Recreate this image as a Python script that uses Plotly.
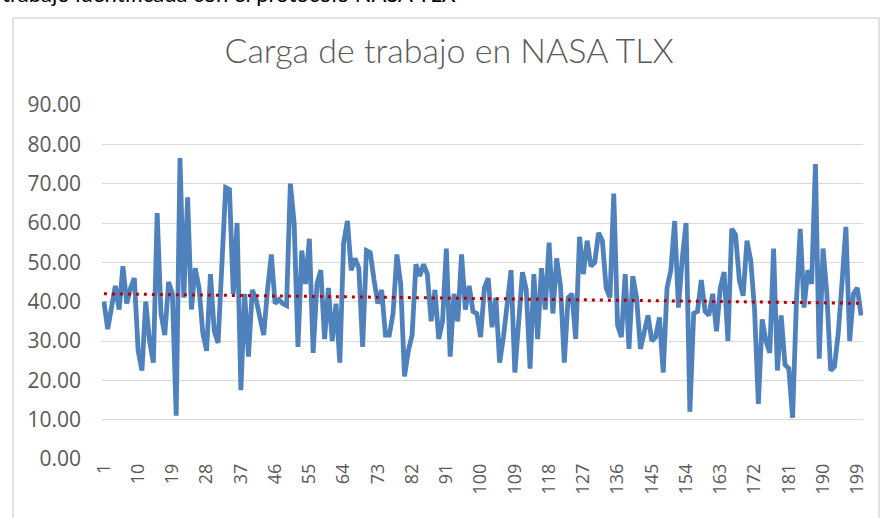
import numpy as np
import plotly.graph_objects as go

title_text = "Carga de trabajo en NASA TLX"
top_text = "trabajo identificada con el protocolo NASA TLX"

values = [
    40, 33, 38.5, 44, 38, 49, 39.5, 43.5, 46, 27.5,
    22.5, 40, 30, 24.5, 62.5, 37, 31.5, 45, 42, 11,
    76.5, 41, 66.5, 38, 48.5, 43.5, 32, 27.5, 47, 32.5,
    29.5, 50, 69, 68.5, 42, 60, 17.5, 42, 26, 43,
    40.5, 36, 31.5, 43, 52, 39.5, 40.5, 39.5, 39, 70,
    60, 28.5, 53, 44.5, 56, 27, 44.5, 48, 30.5, 43.5,
    30, 39.5, 24.5, 55, 60.5, 48, 51, 48.5, 28.5, 53,
    52.5, 45.5, 39.5, 43, 31.5, 31.5, 37, 52, 44.5, 21,
    27.5, 31.5, 49.5, 46.5, 49.5, 47, 35, 43, 30.5, 35,
    53.5, 26, 42, 35, 52, 38, 44, 37.5, 37, 31,
    43.5, 46, 33.5, 41, 24.5, 31, 39, 48, 22, 35,
    47.5, 43, 23, 47, 30.5, 48.5, 38, 55, 37, 51,
    44, 24.5, 41, 42, 30.5, 56.5, 47, 55.5, 49, 50,
    57.5, 55.5, 43.5, 41, 67.5, 34, 31, 47, 28, 46.5,
    41, 28, 32.5, 36.5, 30, 31, 36, 22, 43.5, 48,
    60.5, 38.5, 51, 60, 12, 37, 37.5, 45.5, 37.5, 36.5,
    42, 32.5, 43.5, 47.5, 30, 58.5, 57, 45.5, 41.5, 55.5,
    50.5, 38, 14, 35.5, 30, 27, 53.5, 22.5, 36.5, 24,
    23, 10.5, 40, 58.5, 38.5, 48, 44.5, 75, 25.5, 53.5,
    42, 22.5, 23.5, 32, 45, 59, 30, 42, 43.5, 36.5,
]
x_idx = list(range(1, len(values) + 1))
x_ticks = list(range(1, 201, 9))
y_ticks = [0, 10, 20, 30, 40, 50, 60, 70, 80, 90]

slope, intercept = np.polyfit(x_idx, values, 1)
trend = [slope * x + intercept for x in x_idx]

W, H = 880, 518
ml, mr, mt, mb = 102, 17, 105, 59
pw, ph = W - ml - mr, H - mt - mb

def px(x):
    return (x - ml) / pw

def py(y):
    return (H - mb - y) / ph

TICK_FONT = "Open Sans, Lato, sans-serif"

fig = go.Figure()
fig.add_trace(go.Scatter(
    x=x_idx, y=values, mode="lines",
    line=dict(color="#4F81BD", width=4.8),
    hoverinfo="skip", showlegend=False,
))
fig.add_trace(go.Scatter(
    x=x_idx, y=trend, mode="lines",
    line=dict(color="#C00000", width=3, dash="3px,5px"),
    hoverinfo="skip", showlegend=False,
))

fig.update_layout(
    width=W, height=H,
    margin=dict(l=ml, r=mr, t=mt, b=mb, autoexpand=False),
    paper_bgcolor="white", plot_bgcolor="white",
    font=dict(family="Lato, Open Sans, sans-serif", color="#595959"),
    title=dict(
        text=title_text, x=449 / W, xref="container", xanchor="center",
        y=1 - 51 / H, yref="container", yanchor="middle",
        font=dict(size=34, color="#595959", family="Lato, Open Sans, sans-serif", weight=300),
        automargin=False,
    ),
    xaxis=dict(
        range=[0.5, 200.5], tickmode="array", tickvals=x_ticks,
        ticktext=[str(t) for t in x_ticks], tickangle=-90,
        showgrid=False, zeroline=False, showline=False, ticks="",
        tickfont=dict(size=18, color="#595959", family=TICK_FONT), automargin=False,
    ),
    yaxis=dict(
        range=[0, 90], tickmode="array", tickvals=y_ticks,
        tickformat=".2f", showgrid=True, gridcolor="#D9D9D9", gridwidth=1,
        zeroline=False, showline=False, ticks="",
        tickfont=dict(size=21, color="#595959", family=TICK_FONT),
        ticklabelstandoff=20, automargin=False,
    ),
    shapes=[dict(
        type="rect", xref="paper", yref="paper",
        x0=px(13), x1=px(879), y0=py(530), y1=py(18),
        line=dict(color="#D9D9D9", width=1.5), fillcolor="rgba(0,0,0,0)", layer="below",
    )],
    annotations=[dict(
        text=top_text, xref="paper", yref="paper",
        x=px(0), y=py(9), xanchor="left", yanchor="bottom", showarrow=False,
        font=dict(size=22, color="#000000", family="Lato, Open Sans, sans-serif"),
    )],
)

fig.write_html(
    "out.html",
    config={"displayModeBar": False},
    post_script="document.body.style.margin='0';document.body.style.overflow='hidden';",
)
